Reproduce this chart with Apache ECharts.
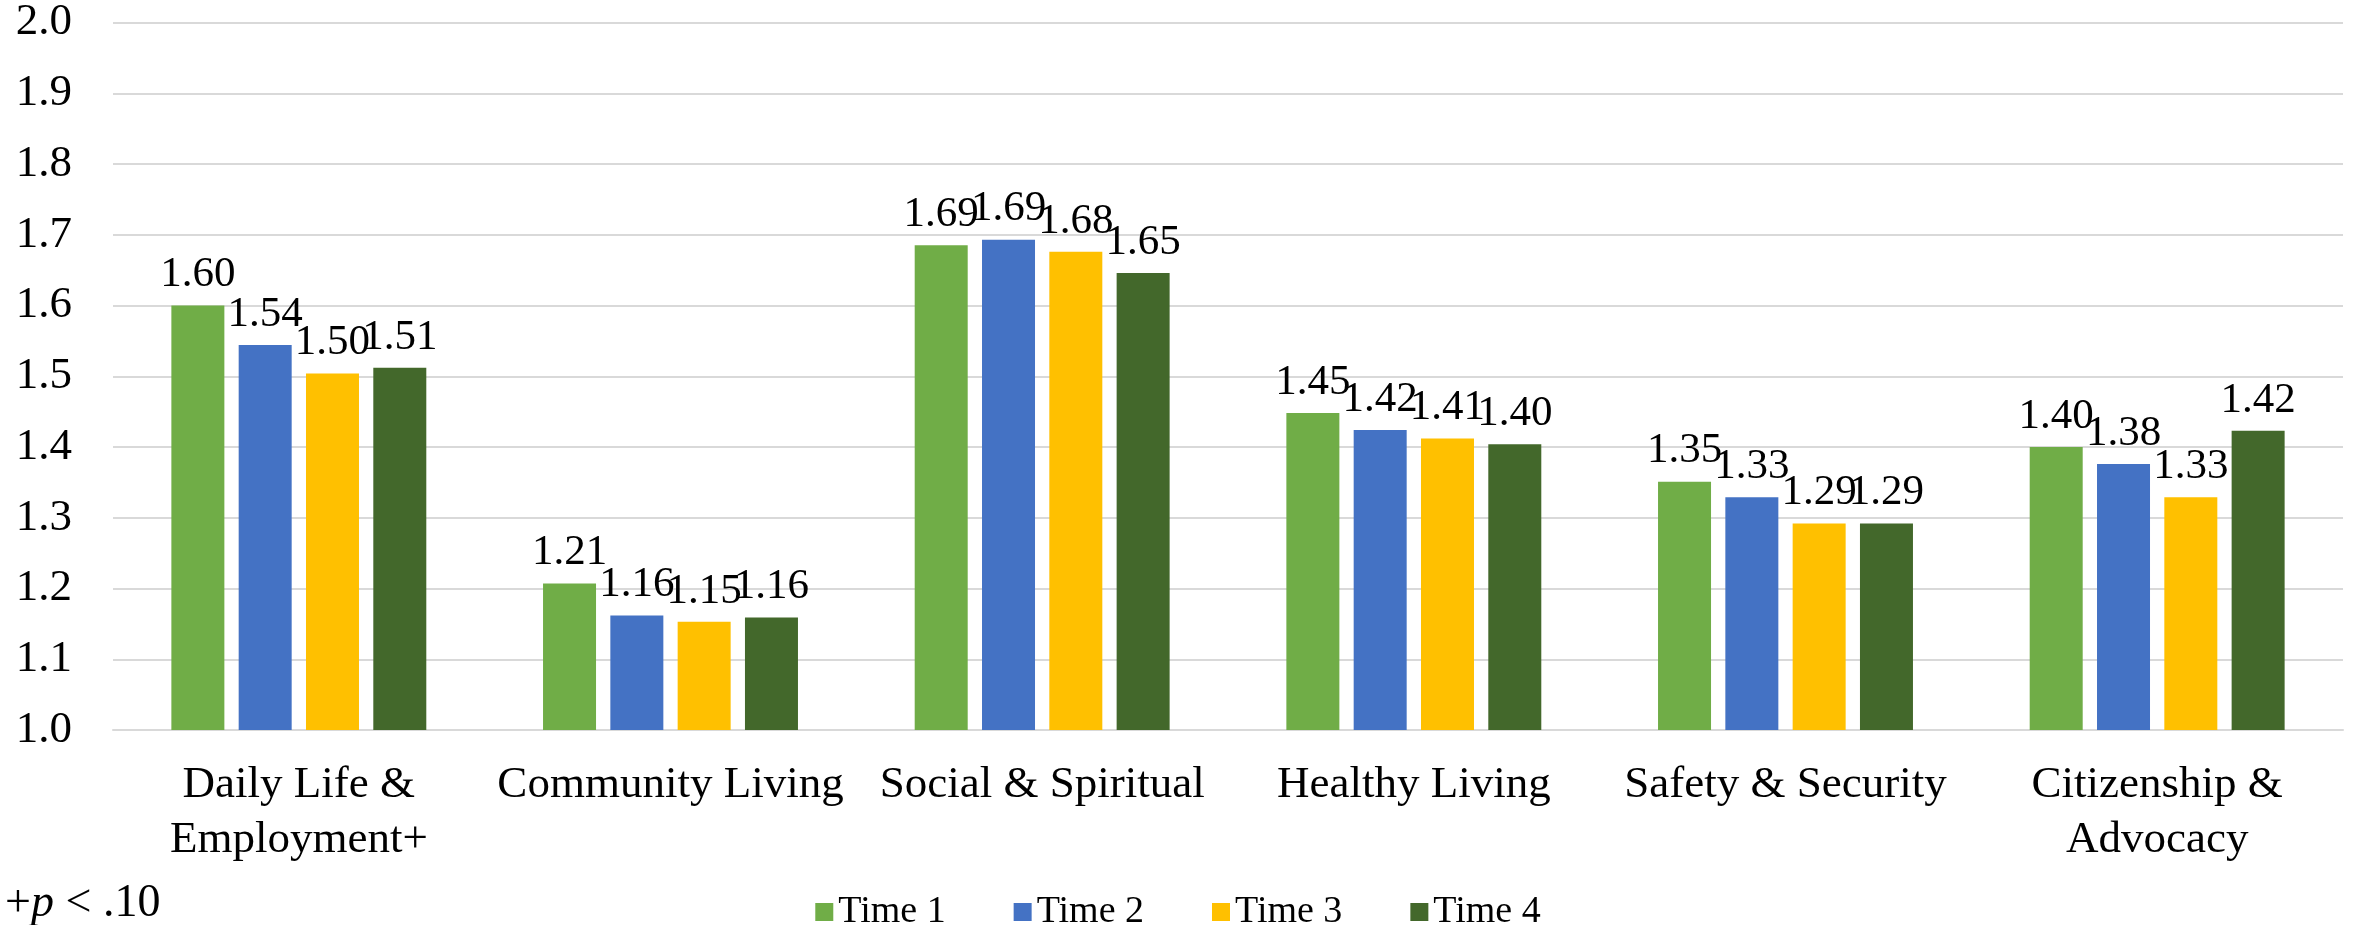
<!DOCTYPE html>
<html>
<head>
<meta charset="utf-8">
<script src="https://cdn.jsdelivr.net/npm/echarts@6/dist/echarts.min.js"></script>
<style>
    html, body { margin: 0; padding: 0; background: #fff; }
    #chart { width: 2356px; height: 925px; }
</style>
</head>
<body>
<div id="chart"></div>
<script>
const categories = ['Daily Life &\nEmployment+', 'Community Living', 'Social & Spiritual', 'Healthy Living', 'Safety & Security', 'Citizenship &\nAdvocacy'];
const time1 = [1.600, 1.207, 1.685, 1.448, 1.351, 1.400];
const time2 = [1.544, 1.162, 1.693, 1.424, 1.329, 1.376];
const time3 = [1.504, 1.153, 1.676, 1.412, 1.292, 1.329];
const time4 = [1.512, 1.159, 1.646, 1.404, 1.292, 1.423];
const seriesNames = ['Time 1', 'Time 2', 'Time 3', 'Time 4'];
const yTicks = [1.0, 1.1, 1.2, 1.3, 1.4, 1.5, 1.6, 1.7, 1.8, 1.9, 2.0];

const font = 'Liberation Serif';
const colors = ['#70AD47', '#4472C4', '#FFC000', '#43682B'];
const values = [time1, time2, time3, time4];

const series = [];
for (var i = 0; i < values.length; i++) {
    series.push({
        name: seriesNames[i],
        type: 'bar',
        data: values[i],
        barWidth: 53,
        barGap: '27%',
        color: colors[i],
        label: {
            show: true,
            position: 'top',
            distance: 9,
            formatter: (p) => p.value.toFixed(2),
            fontFamily: font,
            fontSize: 43,
            color: '#000'
        }
    });
}

const chart = echarts.init(document.getElementById('chart'));
chart.setOption({
    animation: false,
    textStyle: { fontFamily: font },
    grid: { left: 113, right: 13, top: 22, bottom: 195 },
    title: {
        text: '+{i|p} < .10',
        left: 0,
        top: 876,
        textStyle: {
            fontFamily: font,
            fontSize: 46,
            fontWeight: 'normal',
            color: '#000',
            rich: { i: { fontFamily: font, fontSize: 46, fontStyle: 'italic', color: '#000' } }
        }
    },
    legend: {
        data: seriesNames,
        top: 888,
        left: 'center',
        icon: 'rect',
        itemWidth: 18,
        itemHeight: 18,
        itemGap: 68,
        textStyle: { fontFamily: font, fontSize: 38, color: '#000' }
    },
    xAxis: {
        type: 'category',
        data: categories,
        axisTick: { show: false },
        axisLine: { lineStyle: { color: '#d9d9d9', width: 2 } },
        axisLabel: {
            interval: 0,
            margin: 28,
            fontFamily: font,
            fontSize: 45,
            lineHeight: 55,
            color: '#000'
        }
    },
    yAxis: {
        type: 'value',
        min: yTicks[0],
        max: yTicks[yTicks.length - 1],
        interval: 0.1,
        axisLine: { show: false },
        axisTick: { show: false },
        splitLine: { lineStyle: { color: '#d9d9d9', width: 2 } },
        axisLabel: {
            margin: 41,
            fontFamily: font,
            fontSize: 45,
            color: '#000',
            formatter: (v) => v.toFixed(1)
        }
    },
    series: series
});
</script>
</body>
</html>
